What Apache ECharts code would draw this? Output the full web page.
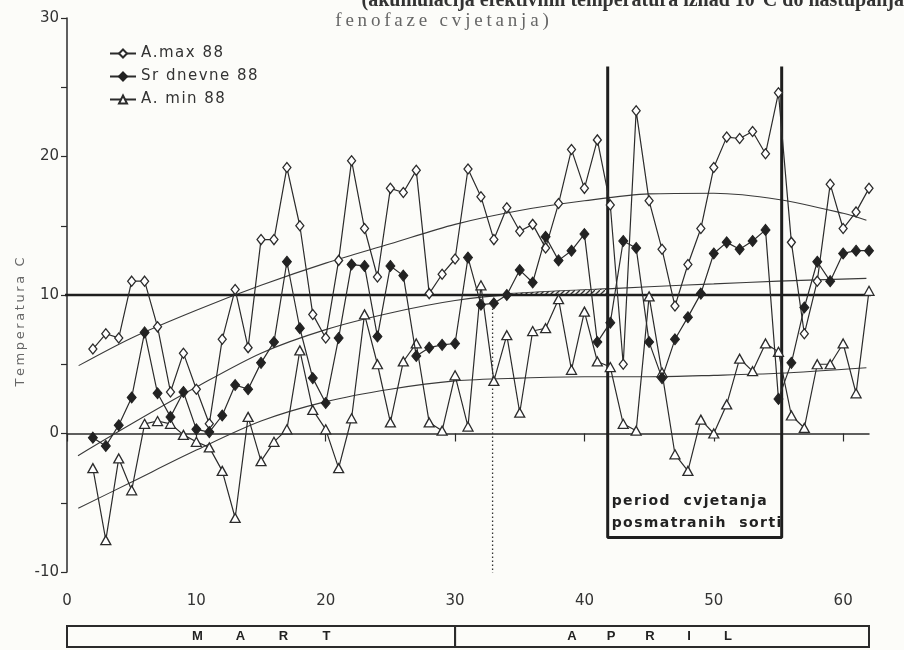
<!DOCTYPE html>
<html><head><meta charset="utf-8">
<script src="https://cdn.jsdelivr.net/npm/echarts@6/dist/echarts.min.js"></script>
<style>html,body{margin:0;padding:0;background:#fcfcf9;} #c{width:904px;height:650px;}</style>
</head><body><div id="c"></div>
<script>
// ---- data ----
const days = [2,3,4,5,6,7,8,9,10,11,12,13,14,15,16,17,18,19,20,21,22,23,24,25,26,27,28,29,30,31,32,33,34,35,36,37,38,39,40,41,42,43,44,45,46,47,48,49,50,51,52,53,54,55,56,57,58,59,60,61,62];
const maxT = [6.1,7.2,6.9,11.0,11.0,7.7,3.0,5.8,3.2,0.7,6.8,10.4,6.2,14.0,14.0,19.2,15.0,8.6,6.9,12.5,19.7,14.8,11.3,17.7,17.4,19.0,10.1,11.5,12.6,19.1,17.1,14.0,16.3,14.6,15.1,13.4,16.6,20.5,17.7,21.2,16.5,5.0,23.3,16.8,13.3,9.2,12.2,14.8,19.2,21.4,21.3,21.8,20.2,24.6,13.8,7.2,11.0,18.0,14.8,16.0,17.7];
const srT = [-0.3,-0.9,0.6,2.6,7.3,2.9,1.2,3.0,0.3,0.1,1.3,3.5,3.2,5.1,6.6,12.4,7.6,4.0,2.2,6.9,12.2,12.1,7.0,12.1,11.4,5.6,6.2,6.4,6.5,12.7,9.3,9.4,10.0,11.8,10.9,14.2,12.5,13.2,14.4,6.6,8.0,13.9,13.4,6.6,4.0,6.8,8.4,10.1,13.0,13.8,13.3,13.9,14.7,2.5,5.1,9.1,12.4,11.0,13.0,13.2,13.2];
const minT = [-2.5,-7.7,-1.8,-4.1,0.7,0.9,0.7,-0.1,-0.6,-1.0,-2.7,-6.1,1.2,-2.0,-0.6,0.3,6.0,1.7,0.3,-2.5,1.1,8.6,5.0,0.8,5.2,6.5,0.8,0.2,4.2,0.5,10.7,3.8,7.1,1.5,7.4,7.6,9.7,4.6,8.8,5.2,4.8,0.7,0.2,9.9,4.4,-1.5,-2.7,1.0,0.0,2.1,5.4,4.5,6.5,5.9,1.3,0.4,5.0,5.0,6.5,2.9,10.3];

// trend curves (at 5-day steps)
const trendMaxX = [0.9, 5, 10, 15, 20, 25, 30, 35, 40, 45, 50, 55, 60, 61.8];
const trendMaxY = [4.9, 6.9, 8.9, 10.7, 12.3, 13.7, 15.1, 16.1, 16.8, 17.3, 17.35, 16.9, 15.9, 15.4];
const trendSrX = [0.85, 5, 10, 15, 20, 25, 30, 35, 40, 45, 50, 55, 61.8];
const trendSrY = [-1.6, 0.7, 3.35, 5.8, 7.5, 8.7, 9.6, 10.1, 10.35, 10.6, 10.8, 11.0, 11.2];
const trendMinX = [0.87, 5, 10, 15, 20, 25, 30, 35, 40, 45, 50, 55, 61.8];
const trendMinY = [-5.4, -3.5, -1.2, 0.9, 2.3, 3.2, 3.8, 4.0, 4.1, 4.1, 4.2, 4.35, 4.75];

// hatched band (sum of temperatures above 10°C)
const hatchX = [34.0, 36.0, 38.0, 41.8];
const hatchTop = [10.1, 10.2, 10.3, 10.45];

const threshold = 10;
const thresholdSpan = [-0.3, 64.7];
const sowingDay = 32.9;
const sowingSpan = [9.6, -10.2];
const periodBox = {x0: 41.8, x1: 55.25, top: 26.5, bottom: -7.5};
const periodText = ['period  cvjetanja', 'posmatranih  sorti'];

const xTicks = [0, 10, 20, 30, 40, 50, 60];
const yTicks = [-10, 0, 10, 20, 30];
const months = [{name: 'MART', from: 0, to: 30}, {name: 'APRIL', from: 30, to: 62}];
const seriesNames = ['A.max 88', 'Sr dnevne 88', 'A. min 88'];
const yName = 'Temperatura C';
const titleLine1 = '(akumulacija efektivnih temperatura iznad 10°C do nastupanja';
const titleLine2 = 'fenofaze cvjetanja)';

// ---- chart ----
const ink = '#2b2b2b';
const chart = echarts.init(document.getElementById('c'));

const cnv = document.createElement('canvas');
cnv.width = 5; cnv.height = 5;
const g = cnv.getContext('2d');
g.fillStyle = '#f4f4f0'; g.fillRect(0,0,5,5);
g.strokeStyle = '#333'; g.lineWidth = 1.3;
g.beginPath(); g.moveTo(-1,6); g.lineTo(6,-1); g.stroke();
const pattern = {image: cnv, repeat: 'repeat'};

const pair = (xs, ys) => xs.map((x, i) => [x, ys[i]]);
const spaced = (s, sep) => s.split('').join(sep);
const trendStyle = {type: 'line', smooth: 0.3, showSymbol: false, silent: true,
  lineStyle: {color: '#3a3a3a', width: 1.1}, z: 1};

const option = {
  backgroundColor: '#fcfcf9',
  animation: false,
  textStyle: {fontFamily: 'DejaVu Sans'},
  grid: {left: 67, right: 35, top: 18, bottom: 78},
  legend: {
    data: seriesNames, orient: 'vertical', left: 104, top: 41, itemGap: 8,
    itemWidth: 26, itemHeight: 10,
    formatter: n => spaced(n, '\u200A'),
    textStyle: {fontSize: 15, color: '#333', fontFamily: 'DejaVu Sans'}
  },
  xAxis: {
    type: 'value', min: 0, max: 62, interval: 10,
    axisLine: {lineStyle: {color: ink, width: 1.5}},
    axisTick: {show: true, length: 8, inside: false, lineStyle: {color: ink, width: 1.2}},
    axisLabel: {fontSize: 15, color: '#333', margin: 22, showMaxLabel: false,
      formatter: v => xTicks.includes(v) ? String(v) : ''},
    splitLine: {show: false}
  },
  yAxis: {
    type: 'value', min: -10, max: 30, interval: 5,
    axisLine: {show: true, lineStyle: {color: ink, width: 1.5}},
    axisTick: {show: true, length: 6, lineStyle: {color: ink, width: 1.2}},
    axisLabel: {fontSize: 15, color: '#333', margin: 8,
      formatter: v => yTicks.includes(v) ? String(v) : ''},
    splitLine: {show: false}
  },
  series: [
    Object.assign({name: 'trendMax', data: pair(trendMaxX, trendMaxY)}, trendStyle),
    Object.assign({name: 'trendSr', data: pair(trendSrX, trendSrY)}, trendStyle),
    Object.assign({name: 'trendMin', data: pair(trendMinX, trendMinY)}, trendStyle),
    {
      type: 'custom', silent: true, z: 3,
      data: [[hatchX[0], threshold]],
      renderItem: (params, api) => {
        const pts = hatchX.map((x, i) => api.coord([x, hatchTop[i]]));
        for (let i = hatchX.length - 1; i >= 0; i--) pts.push(api.coord([hatchX[i], threshold]));
        return {type: 'polygon', shape: {points: pts},
          style: {fill: pattern, stroke: '#333', lineWidth: 0.8}};
      }
    },
    {
      name: 'threshold', type: 'line', showSymbol: false, silent: true, clip: false, z: 4,
      data: [[thresholdSpan[0], threshold], [thresholdSpan[1], threshold]],
      lineStyle: {color: '#1e1e1e', width: 2.6}
    },
    {
      name: 'sowing', type: 'line', showSymbol: false, silent: true, z: 2,
      data: [[sowingDay, sowingSpan[0]], [sowingDay, sowingSpan[1]]],
      lineStyle: {color: '#333', width: 1.3, type: [1.5, 2.5]}
    },
    {
      name: 'period', type: 'line', showSymbol: false, silent: true, z: 5,
      data: [[periodBox.x0, periodBox.top], [periodBox.x0, periodBox.bottom],
             [periodBox.x1, periodBox.bottom], [periodBox.x1, periodBox.top]],
      lineStyle: {color: '#1e1e1e', width: 3}
    },
    {
      name: seriesNames[0], type: 'line', data: pair(days, maxT), z: 6,
      symbol: 'diamond', symbolSize: [8, 10],
      itemStyle: {color: '#ffffff', borderColor: ink, borderWidth: 1.3},
      lineStyle: {color: ink, width: 1.2}
    },
    {
      name: seriesNames[1], type: 'line', data: pair(days, srT), z: 7,
      symbol: 'diamond', symbolSize: [9, 11],
      itemStyle: {color: '#222', borderColor: '#222', borderWidth: 1},
      lineStyle: {color: ink, width: 1.2}
    },
    {
      name: seriesNames[2], type: 'line', data: pair(days, minT), z: 6,
      symbol: 'triangle', symbolSize: [10, 9],
      itemStyle: {color: '#ffffff', borderColor: ink, borderWidth: 1.3},
      lineStyle: {color: ink, width: 1.2}
    }
  ]
};
chart.setOption(option);

// ---- decorations positioned through the axes ----
const px = v => chart.convertToPixel({xAxisIndex: 0}, v);
const graphics = [];
// month bar
const barTop = 626, barH = 21;
months.forEach((m, k) => {
  const x0 = px(m.from), x1 = px(m.to);
  graphics.push({type: 'rect', shape: {x: x0, y: barTop, width: x1 - x0, height: barH},
    style: {fill: 'transparent', stroke: ink, lineWidth: 2}});
  const letters = m.name.split('');
  const step = k === 0 ? 43 : 39;
  const cx = k === 0 ? 262 : 650;
  letters.forEach((ch, i) => {
    graphics.push({type: 'text', x: cx + (i - (letters.length - 1) / 2) * step, y: barTop + barH / 2,
      style: {text: ch, font: 'bold 13px "Liberation Sans"', fill: '#222', align: 'center', verticalAlign: 'middle'}});
  });
});
// period text
periodText.forEach((t, i) => {
  graphics.push({type: 'text', x: px(periodBox.x0) + 4, y: 501 + i * 22,
    style: {text: spaced(t, '\u200A'), font: 'bold 14px "DejaVu Sans"', fill: '#222', align: 'left', verticalAlign: 'middle'}});
});
// y axis name
graphics.push({type: 'text', x: 21, y: 322, rotation: Math.PI / 2,
  style: {text: spaced(yName, '\u2009'), font: '13px "DejaVu Sans"', fill: '#666', align: 'center', verticalAlign: 'middle'}});
// title fragments (the first line is cut by the top edge in the reference)
graphics.push({type: 'text', x: 904, y: 11,
  style: {text: titleLine1, font: 'bold 20px "Liberation Serif"', fill: '#333', align: 'right', verticalAlign: 'bottom'}});
graphics.push({type: 'text', x: 442, y: 21,
  style: {text: spaced(titleLine2, '\u2009'), font: '19px "Liberation Serif"', fill: '#666', align: 'center', verticalAlign: 'middle'}});
chart.setOption({graphic: graphics});
</script>
</body></html>
